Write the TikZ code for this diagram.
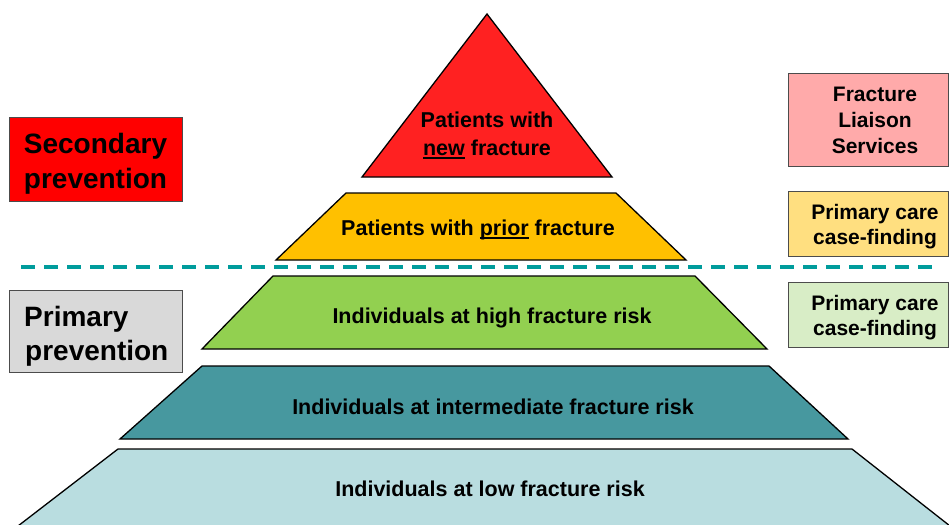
\documentclass[tikz,border=0pt]{standalone}
\usepackage{fontspec}
\setmainfont{Liberation Sans}
% fills of the pyramid tiers and side boxes
\definecolor{tierRed}{HTML}{FF2121}
\definecolor{tierAmber}{HTML}{FFC000}
\definecolor{tierGreen}{HTML}{92D050}
\definecolor{tierTeal}{HTML}{47989F}
\definecolor{tierIce}{HTML}{B9DDE0}
\definecolor{boxGrey}{HTML}{D9D9D9}
\definecolor{boxPink}{HTML}{FFAAAA}
\definecolor{boxCream}{HTML}{FFDF80}
\definecolor{boxMint}{HTML}{D8EDC6}
\definecolor{divider}{HTML}{009C9C}
% underline with a heavier rule than \underline gives
\newcommand\ulword[1]{\setbox0\hbox{#1}\rlap{\rule[-3.5pt]{\wd0}{1.8pt}}\box0\relax}
\begin{document}
\begin{tikzpicture}[x=1pt,y=-1pt,
  tier/.style={draw=black, line width=1.3pt, line join=miter},
  tiertext/.style={font=\fontsize{21.5}{25}\selectfont\bfseries, anchor=base, inner sep=0pt},
  sidebox/.style={draw=black!70, line width=1pt},
  sidetext/.style={font=\fontsize{21}{25}\selectfont\bfseries, anchor=base, inner sep=0pt},
  bigtext/.style={font=\fontsize{28}{32}\selectfont\bfseries, anchor=base, inner sep=0pt}]
\useasboundingbox (0,0) rectangle (949,524);

% ---- pyramid tiers ----
\draw[tier, fill=tierRed] (487,14) -- (612,177) -- (362,177) -- cycle;
\draw[tier, fill=tierAmber] (346,193) -- (616,193) -- (686,260) -- (276,260) -- cycle;
\draw[tier, fill=tierGreen] (273,276) -- (695,276) -- (767,349) -- (202,349) -- cycle;
\draw[tier, fill=tierTeal] (202,366) -- (769,366) -- (848,439) -- (120,439) -- cycle;
\begin{scope}
  \clip (0,0) rectangle (949,524);
  \draw[tier, fill=tierIce] (118,449) -- (852,449) -- (950,526) -- (18,526) -- cycle;
\end{scope}

% ---- tier labels ----
\node[tiertext] (newA) at (487,128) {Patients with};
\node[tiertext] (newB) at (487,155) {\ulword{new} fracture};
\node[tiertext] (prior) at (478,235) {Patients with \ulword{prior} fracture};
\node[tiertext] (high) at (492,323) {Individuals at high fracture risk};
\node[tiertext] (mid) at (493,414) {Individuals at intermediate fracture risk};
\node[tiertext] (low) at (490,496) {Individuals at low fracture risk};

% ---- divider between secondary and primary prevention ----
\coordinate (divL) at (21,267);
\coordinate (divR) at (940,267);
\draw[divider, line width=4pt, dash pattern=on 14pt off 9pt] (divL) -- (divR);

% ---- prevention boxes on the left ----
\draw[sidebox, fill=red] (9,117) rectangle (182,201);
\node[bigtext] (secA) at (95.5,153) {Secondary};
\node[bigtext] (secB) at (95.5,188) {prevention};
\draw[sidebox, fill=boxGrey] (9,290) rectangle (182,372);
\node[bigtext, anchor=base west] (priA) at (24,326) {Primary};
\node[bigtext, anchor=base west] (priB) at (25,360) {prevention};

% ---- service boxes on the right ----
\draw[sidebox, fill=boxPink] (788,74) rectangle (948.5,166);
\node[sidetext] (flsA) at (875,101.5) {Fracture};
\node[sidetext] (flsB) at (875,127.5) {Liaison};
\node[sidetext] (flsC) at (875,153.5) {Services};
\draw[sidebox, fill=boxCream] (788,191) rectangle (948.5,256);
\node[sidetext] (pcA) at (875,219.5) {Primary care};
\node[sidetext] (pcB) at (875,244.5) {case-finding};
\draw[sidebox, fill=boxMint] (788,282) rectangle (948.5,347);
\node[sidetext] (pcC) at (875,310.5) {Primary care};
\node[sidetext] (pcD) at (875,335.5) {case-finding};
\end{tikzpicture}
\end{document}
